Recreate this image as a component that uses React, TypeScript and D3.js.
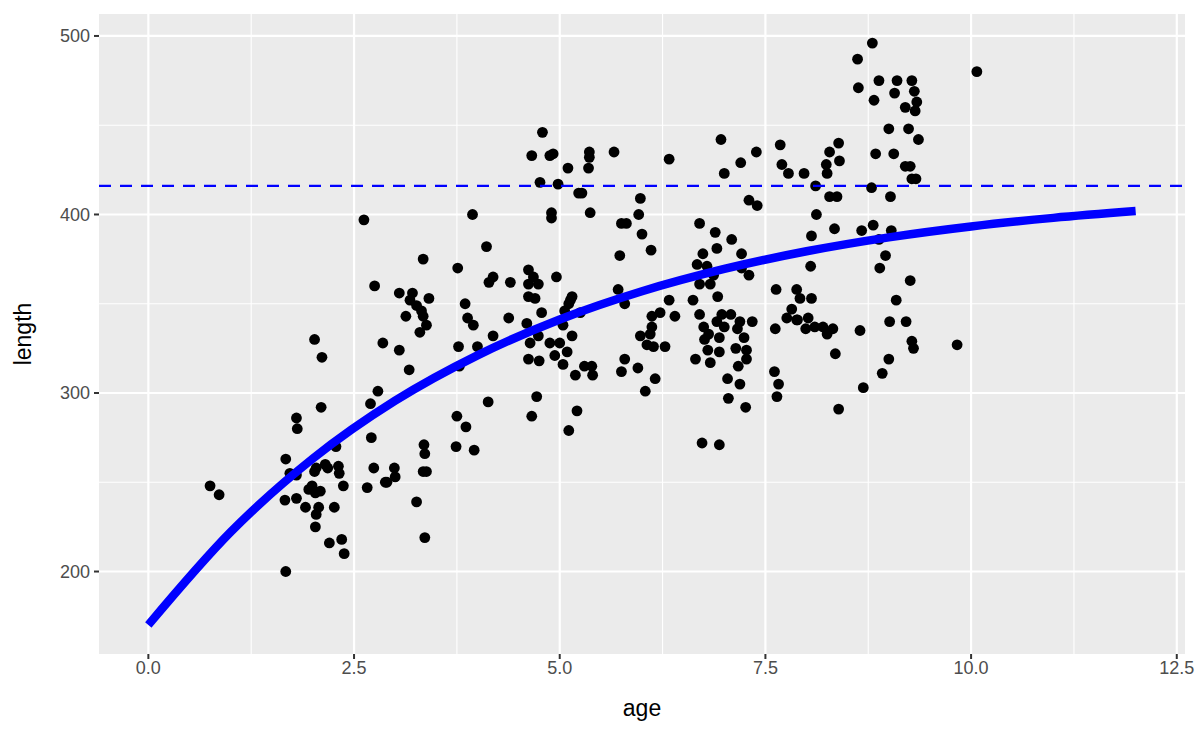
import React from "react";
import * as d3 from "d3";

const ages: number[] = [
  0.75, 0.86, 2.62, 2.75, 2.02, 2.11, 2.85, 2.79, 2.70, 2.10, 1.80, 1.81, 2.71, 2.28, 1.67, 1.72, 1.80, 2.04, 2.02, 2.15,
  2.18, 2.31, 2.32, 2.74, 2.90, 2.66, 2.37, 1.95, 1.99, 2.09, 2.03, 1.66, 1.80, 1.91, 2.07, 2.04, 2.26, 2.03, 2.20, 2.35,
  2.38, 1.67, 3.94, 4.90, 4.90, 4.11, 3.34, 3.76, 4.19, 4.14, 4.40, 4.62, 4.68, 4.62, 4.74, 4.96, 4.62, 4.70, 3.05, 3.21,
  3.18, 3.41, 3.26, 3.32, 3.13, 3.34, 3.38, 3.30, 3.85, 3.88, 3.95, 4.38, 5.13, 5.04, 4.78, 4.60, 4.74, 4.64, 4.88, 5.00,
  5.15, 5.09, 4.94, 4.62, 4.75, 5.04, 5.19, 3.05, 3.17, 3.77, 3.78, 4.00, 4.19, 4.72, 4.13, 4.66, 5.21, 5.11, 3.75, 3.86,
  3.74, 3.96, 3.35, 3.36, 3.34, 3.38, 2.99, 3.00, 2.88, 3.26, 3.36, 4.79, 4.66, 4.88, 4.92, 5.10, 5.36, 5.36, 5.35, 5.66,
  4.76, 4.98, 5.23, 5.27, 5.37, 5.98, 5.96, 5.75, 5.81, 6.00, 6.11, 5.73, 5.15, 5.11, 5.71, 5.79, 5.25, 6.12, 6.12, 6.10,
  5.98, 6.06, 6.14, 5.30, 5.39, 5.40, 5.79, 5.75, 5.95, 6.16, 6.04, 5.06, 6.33, 6.96, 7.39, 7.20, 7.00, 7.68, 7.70, 7.78,
  7.30, 7.40, 6.70, 6.89, 7.09, 6.91, 6.74, 7.21, 6.67, 6.79, 7.21, 6.87, 7.30, 6.70, 6.83, 7.63, 7.88, 6.92, 6.33, 6.62,
  6.22, 6.40, 6.70, 6.97, 7.08, 6.91, 7.19, 7.34, 6.75, 7.00, 6.81, 7.16, 7.24, 6.76, 6.94, 7.14, 7.27, 6.80, 6.94, 6.65,
  6.83, 7.27, 7.17, 7.62, 7.76, 7.82, 7.88, 6.28, 7.04, 7.19, 7.05, 7.26, 7.61, 7.66, 7.64, 6.73, 6.94, 7.97, 8.39, 8.28,
  8.40, 8.24, 8.25, 8.84, 9.06, 8.11, 8.28, 8.37, 8.79, 9.02, 8.12, 8.34, 8.06, 8.67, 8.81, 8.88, 9.03, 8.96, 8.89, 8.05,
  7.92, 8.06, 9.09, 7.89, 8.02, 7.99, 8.10, 8.20, 8.32, 8.25, 8.65, 9.01, 8.35, 9.00, 8.92, 8.69, 8.39, 8.80, 8.62, 10.07,
  8.63, 8.88, 9.10, 9.28, 8.82, 9.07, 9.31, 9.34, 9.20, 9.32, 9.00, 9.24, 9.36, 9.20, 9.26, 9.28, 9.33, 9.26, 9.21, 9.28,
  9.30, 9.83,
];

const lengths: number[] = [
  248, 243, 397, 360, 330, 320, 328, 301, 294, 292, 286, 280, 275, 270, 263, 255, 254, 258, 256, 260,
  258, 259, 255, 258, 250, 247, 248, 246, 248, 245, 244, 240, 241, 236, 236, 232, 236, 225, 216, 218,
  210, 200, 400, 401, 398, 382, 375, 370, 365, 362, 362, 369, 365, 361, 361, 365, 354, 353, 356, 356,
  352, 353, 349, 346, 343, 343, 338, 334, 350, 342, 338, 342, 352, 338, 345, 339, 332, 328, 328, 328,
  332, 323, 321, 319, 318, 316, 310, 324, 313, 326, 315, 326, 332, 298, 295, 287, 290, 279, 287, 281,
  270, 268, 271, 266, 256, 256, 258, 253, 250, 239, 219, 446, 433, 433, 434, 426, 435, 432, 426, 435,
  418, 417, 412, 412, 401, 409, 400, 395, 395, 389, 380, 377, 354, 350, 358, 350, 345, 343, 337, 333,
  332, 327, 326, 315, 315, 310, 319, 312, 314, 308, 301, 346, 431, 442, 435, 429, 423, 439, 428, 423,
  408, 405, 395, 390, 386, 381, 378, 378, 372, 371, 370, 366, 366, 361, 361, 358, 358, 354, 352, 352,
  345, 343, 344, 344, 344, 340, 340, 340, 337, 337, 333, 336, 331, 330, 331, 325, 324, 324, 323, 319,
  317, 319, 315, 336, 342, 347, 341, 326, 308, 305, 297, 292, 312, 305, 298, 272, 271, 423, 440, 435,
  430, 428, 423, 434, 434, 416, 410, 410, 415, 410, 400, 392, 388, 391, 394, 386, 391, 377, 370, 371,
  353, 353, 352, 341, 342, 336, 337, 337, 336, 333, 335, 340, 322, 319, 311, 303, 291, 496, 487, 480,
  471, 475, 475, 475, 464, 468, 469, 463, 460, 458, 448, 448, 442, 427, 427, 420, 420, 363, 340, 329,
  325, 327,
];

// fitted growth curve at whole ages
const curveAges: number[] = [0, 1, 2, 3, 4, 5, 6, 7, 8, 9, 10, 11, 12];
const curveLengths: number[] = [170.1, 222.1, 263.3, 295.7, 321.1, 341.2, 357.0, 369.5, 379.4, 387.2, 393.3, 398.1, 401.9];

const asymptote = 416;

const xTicks: number[] = [0, 2.5, 5, 7.5, 10, 12.5];
const xMinor: number[] = [1.25, 3.75, 6.25, 8.75, 11.25];
const yTicks: number[] = [200, 300, 400, 500];
const yMinor: number[] = [250, 350, 450];

const W = 1200;
const H = 738;
const PL = 99;
const PR = 1185;
const PT = 14;
const PB = 654;

export default function App() {
  const x = d3.scaleLinear().domain([-0.6, 12.6]).range([PL, PR]);
  const y = d3.scaleLinear().domain([153.8, 512.3]).range([PB, PT]);

  const curveData = curveAges.map((a, i) => [a, curveLengths[i]] as [number, number]);
  const line = d3
    .line<[number, number]>()
    .x((d) => x(d[0]))
    .y((d) => y(d[1]))
    .curve(d3.curveMonotoneX);

  const fmt = d3.format(".1f");
  const font = "'Liberation Sans', Arial, Helvetica, sans-serif";

  return (
    <div style={{ position: "absolute", left: 0, top: 0 }}>
      <svg width={W} height={H} style={{ display: "block", background: "#fff" }} fontFamily={font}>
        <defs>
          <clipPath id="panel">
            <rect x={PL} y={PT} width={PR - PL} height={PB - PT} />
          </clipPath>
        </defs>
        <rect x={PL} y={PT} width={PR - PL} height={PB - PT} fill="#EBEBEB" />
        {xMinor.map((v) => (
          <line key={"xm" + v} x1={x(v)} x2={x(v)} y1={PT} y2={PB} stroke="#fff" strokeWidth={1.1} />
        ))}
        {yMinor.map((v) => (
          <line key={"ym" + v} x1={PL} x2={PR} y1={y(v)} y2={y(v)} stroke="#fff" strokeWidth={1.1} />
        ))}
        {xTicks.map((v) => (
          <line key={"xg" + v} x1={x(v)} x2={x(v)} y1={PT} y2={PB} stroke="#fff" strokeWidth={2.2} />
        ))}
        {yTicks.map((v) => (
          <line key={"yg" + v} x1={PL} x2={PR} y1={y(v)} y2={y(v)} stroke="#fff" strokeWidth={2.2} />
        ))}
        <g clipPath="url(#panel)">
          {ages.map((a, i) => (
            <circle key={"p" + i} cx={x(a)} cy={y(lengths[i])} r={5.4} fill="#000" />
          ))}
          <path d={line(curveData) || ""} fill="none" stroke="#0000FF" strokeWidth={8.5} />
          <line
            x1={PL}
            x2={PR}
            y1={y(asymptote)}
            y2={y(asymptote)}
            stroke="#0000FF"
            strokeWidth={2.2}
            strokeDasharray="12 9"
          />
        </g>
        {xTicks.map((v) => (
          <g key={"xt" + v}>
            <line x1={x(v)} x2={x(v)} y1={PB} y2={PB + 5} stroke="#333" strokeWidth={2} />
            <text x={x(v)} y={PB + 20} textAnchor="middle" fontSize={18} fill="#4D4D4D">
              {fmt(v)}
            </text>
          </g>
        ))}
        {yTicks.map((v) => (
          <g key={"yt" + v}>
            <line x1={PL - 5} x2={PL} y1={y(v)} y2={y(v)} stroke="#333" strokeWidth={2} />
            <text x={PL - 9} y={y(v)} dy="0.36em" textAnchor="end" fontSize={18} fill="#4D4D4D">
              {v}
            </text>
          </g>
        ))}
        <text x={(PL + PR) / 2} y={716} textAnchor="middle" fontSize={23} fill="#000">
          age
        </text>
        <text
          transform={`translate(31, ${(PT + PB) / 2}) rotate(-90)`}
          textAnchor="middle"
          fontSize={23}
          fill="#000"
        >
          length
        </text>
      </svg>
    </div>
  );
}
